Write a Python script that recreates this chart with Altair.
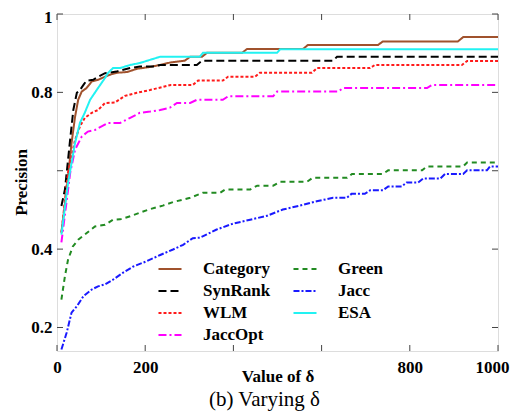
import altair as alt
import pandas as pd

# ---------------- data ----------------
category_x = [10, 22, 33, 41, 48, 56, 67, 79, 93, 109, 120, 136, 159, 181, 211, 234, 256, 290, 302, 329,
              340, 420, 431, 558, 569, 728, 739, 909, 921, 1000]
category_y = [0.442, 0.552, 0.671, 0.738, 0.781, 0.802, 0.811, 0.828, 0.832, 0.840, 0.845, 0.850, 0.852, 0.860,
              0.865, 0.870, 0.876, 0.881, 0.891, 0.891, 0.901, 0.901, 0.911, 0.911, 0.921, 0.921, 0.930, 0.930,
              0.941, 0.941]

synrank_x = [10, 18, 29, 37, 45, 52, 60, 67, 82, 93, 109, 135, 147, 166, 188, 218, 234, 317, 329, 626, 635, 1000]
synrank_y = [0.51, 0.552, 0.671, 0.755, 0.799, 0.806, 0.819, 0.830, 0.832, 0.840, 0.849, 0.853, 0.857, 0.862,
             0.866, 0.866, 0.870, 0.870, 0.881, 0.881, 0.891, 0.891]

wlm_x = [10, 25, 41, 52, 63, 79, 93, 109, 131, 154, 181, 211, 240, 258, 308, 320, 376, 388, 449, 460,
         578, 590, 710, 721, 918, 930, 1000]
wlm_y = [0.442, 0.595, 0.679, 0.713, 0.735, 0.748, 0.755, 0.773, 0.774, 0.791, 0.799, 0.806, 0.814, 0.819,
         0.819, 0.830, 0.830, 0.840, 0.840, 0.850, 0.850, 0.862, 0.862, 0.870, 0.870, 0.880, 0.880]

jaccopt_x = [10, 30, 41, 56, 70, 86, 101, 116, 143, 166, 188, 211, 234, 256, 272, 302, 317, 376, 388, 490,
             499, 637, 649, 839, 850, 1000]
jaccopt_y = [0.417, 0.595, 0.654, 0.687, 0.700, 0.704, 0.713, 0.722, 0.722, 0.735, 0.748, 0.751, 0.755, 0.761,
             0.773, 0.773, 0.781, 0.781, 0.790, 0.790, 0.802, 0.802, 0.811, 0.811, 0.819, 0.819]

green_x = [10, 18, 25, 36, 48, 63, 86, 109, 127, 143, 166, 188, 211, 240, 263, 302, 331, 370, 381, 438,
           454, 490, 506, 567, 580, 658, 669, 739, 751, 828, 839, 921, 930, 1000]
green_y = [0.271, 0.331, 0.373, 0.407, 0.424, 0.437, 0.458, 0.462, 0.475, 0.476, 0.484, 0.493, 0.502, 0.511,
           0.520, 0.531, 0.544, 0.544, 0.552, 0.552, 0.562, 0.562, 0.572, 0.572, 0.582, 0.582, 0.592, 0.592,
           0.601, 0.601, 0.611, 0.611, 0.621, 0.621]

jacc_x = [10, 22, 33, 45, 60, 79, 93, 109, 127, 150, 172, 203, 234, 263, 286, 308, 324, 362, 399, 438,
          476, 512, 551, 589, 626, 657, 668, 698, 710, 739, 751, 782, 793, 819, 830, 869, 880, 921, 930, 975,
          982, 1000]
jacc_y = [0.144, 0.187, 0.238, 0.254, 0.280, 0.297, 0.305, 0.310, 0.322, 0.340, 0.355, 0.369, 0.385, 0.399,
          0.411, 0.428, 0.429, 0.450, 0.465, 0.475, 0.485, 0.501, 0.511, 0.522, 0.531, 0.531, 0.541, 0.541,
          0.550, 0.550, 0.560, 0.560, 0.570, 0.570, 0.580, 0.580, 0.592, 0.592, 0.601, 0.601, 0.611, 0.611]

esa_x = [10, 25, 41, 52, 63, 75, 90, 101, 109, 116, 127, 143, 166, 188, 211, 234, 324, 331, 499, 506, 1000]
esa_y = [0.437, 0.569, 0.671, 0.722, 0.748, 0.781, 0.806, 0.824, 0.837, 0.850, 0.862, 0.862, 0.870, 0.875,
         0.883, 0.891, 0.891, 0.901, 0.901, 0.910, 0.910]

series = {
    "Category": (category_x, category_y),
    "SynRank": (synrank_x, synrank_y),
    "WLM": (wlm_x, wlm_y),
    "JaccOpt": (jaccopt_x, jaccopt_y),
    "Green": (green_x, green_y),
    "Jacc": (jacc_x, jacc_y),
    "ESA": (esa_x, esa_y),
}

legend_order = ["Category", "SynRank", "WLM", "JaccOpt", "Green", "Jacc", "ESA"]
color_range = ["#a0522d", "#000000", "#ff1a1a", "#ff00ff", "#228b22", "#1a1aff", "#22f2f2"]
dash_range = [[1, 0], [8, 4], [3, 2], [8, 3, 2, 3], [5, 4], [6, 2, 2, 2], [1, 0]]

x_ticks = [0, 200, 400, 600, 800, 1000]
y_ticks = [0.2, 0.4, 0.6, 0.8, 1.0]
caption = "(b) Varying δ"

rows = []
for name, (xs, ys) in series.items():
    for a, b in zip(xs, ys):
        rows.append({"series": name, "delta": a, "precision": b})
df = pd.DataFrame(rows)

W, H = 441, 337
FONT = "Liberation Serif"

leg = alt.Legend(
    title=None, orient="none", legendX=100, legendY=242, columns=2,
    symbolType="stroke", symbolSize=530, symbolStrokeWidth=2,
    labelFont=FONT, labelFontSize=17, labelFontWeight="bold", labelColor="black",
    labelOffset=20, rowPadding=1, columnPadding=18, padding=0,
)

xscale = alt.Scale(domain=[0, 1000], nice=False)
yscale = alt.Scale(domain=[0.14, 1.0], nice=False, zero=False)

lines = alt.Chart(df).mark_line(strokeWidth=2, clip=True).encode(
    x=alt.X("delta:Q", scale=xscale, axis=alt.Axis(
        values=x_ticks, title="Value of δ", format="d",
        labelExpr="(datum.value == 400 || datum.value == 600) ? '' : datum.label",
        labelOffset={"condition": {"test": "datum.value == 1000", "value": -6}, "value": 0},
        ticks=False, tickSize=0, domain=False, grid=False,
        labelFont=FONT, labelFontSize=17, labelFontWeight="bold", labelColor="black",
        labelPadding=8, labelFlush=False,
        titleFont=FONT, titleFontSize=17, titleFontWeight="bold", titleColor="black",
        titleX=220.5, titleY=30, titleBaseline="alphabetic", titleAlign="center",
    )),
    y=alt.Y("precision:Q", scale=yscale, axis=alt.Axis(
        values=y_ticks, title="Precision",
        labelExpr="datum.value == 0.6 ? '' : format(datum.value, '~g')",
        labelOffset={"condition": {"test": "datum.value == 1", "value": 3}, "value": 0},
        ticks=False, tickSize=0, domain=False, grid=False,
        labelFont=FONT, labelFontSize=17, labelFontWeight="bold", labelColor="black",
        labelPadding=5, labelFlush=False,
        titleFont=FONT, titleFontSize=17, titleFontWeight="bold", titleColor="black",
        titleAngle=270, titleX=-31, titleY=168, titleBaseline="alphabetic", titleAlign="center",
    )),
    color=alt.Color("series:N", scale=alt.Scale(domain=legend_order, range=color_range), legend=leg),
    strokeDash=alt.StrokeDash("series:N", scale=alt.Scale(domain=legend_order, range=dash_range), legend=leg),
)

xt = pd.DataFrame({"delta": x_ticks})
yt = pd.DataFrame({"precision": y_ticks})
tick_style = dict(color="#444444", strokeWidth=1)

bottom_ticks = alt.Chart(xt).mark_rule(**tick_style).encode(
    x=alt.X("delta:Q", scale=xscale), y=alt.value(H - 6), y2=alt.value(H))
top_ticks = alt.Chart(xt).mark_rule(**tick_style).encode(
    x=alt.X("delta:Q", scale=xscale), y=alt.value(0), y2=alt.value(6))
left_ticks = alt.Chart(yt).mark_rule(**tick_style).encode(
    y=alt.Y("precision:Q", scale=yscale), x=alt.value(0), x2=alt.value(6))
right_ticks = alt.Chart(yt).mark_rule(**tick_style).encode(
    y=alt.Y("precision:Q", scale=yscale), x=alt.value(W - 6), x2=alt.value(W))

cap = alt.Chart(pd.DataFrame({"t": [caption]})).mark_text(
    font=FONT, fontSize=21, color="black", align="center", baseline="alphabetic"
).encode(x=alt.value(207.5), y=alt.value(392), text="t:N")

chart = alt.layer(lines, bottom_ticks, top_ticks, left_ticks, right_ticks, cap).properties(
    width=W, height=H,
    padding={"left": 49, "top": 6, "right": 12, "bottom": 60},
    autosize=alt.AutoSizeParams(type="none"),
).configure_view(stroke="black", strokeWidth=2.5).configure(background="white")

chart.save("out.html", embed_options={"renderer": "svg", "actions": False})
